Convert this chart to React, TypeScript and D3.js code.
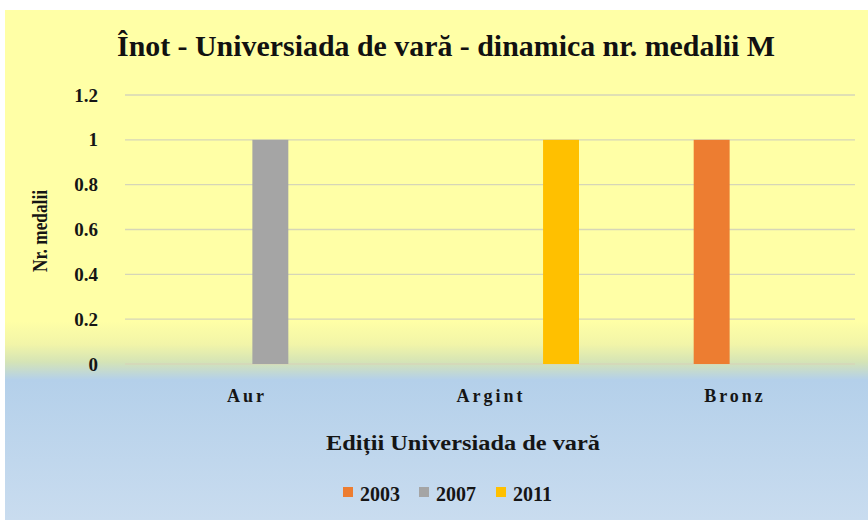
import React from "react";
import * as d3 from "d3";

const categories = ["Aur", "Argint", "Bronz"];
const seriesSlots = ["", "2003", "2007", "2011"];
const years = ["2003", "2007", "2011"];
const values2003 = [0, 0, 1];
const values2007 = [1, 0, 0];
const values2011 = [0, 1, 0];
const yTicks = [0, 0.2, 0.4, 0.6, 0.8, 1, 1.2];
const colors: Record<string, string> = { "2003": "#ED7D31", "2007": "#A5A5A5", "2011": "#FFC000" };

const title = "Înot - Universiada de vară - dinamica  nr. medalii M";
const xTitle = "Ediții Universiada de vară";
const yTitle = "Nr. medalii";

export default function App() {
  const W = 868, H = 520;
  const left = 125, right = 857, top = 95, bottom = 364;
  const x0 = d3.scaleBand<string>().domain(categories).range([left, right]).paddingInner(0).paddingOuter(0);
  const x1 = d3.scaleBand<string>().domain(seriesSlots).range([0, 176]).paddingInner(0.23).paddingOuter(0);
  const y = d3.scaleLinear().domain([0, 1.2]).range([bottom, top]);
  const seriesValues: Record<string, number[]> = { "2003": values2003, "2007": values2007, "2011": values2011 };
  const font = "Liberation Serif";
  const bandOffset = (x0.bandwidth() - 176) / 2;
  const ink = "#151515";

  return (
    <div style={{ position: "absolute", left: 0, top: 0 }}>
      <svg width={W} height={H} style={{ display: "block" }}>
        <defs>
          <linearGradient id="bg" x1="0" y1="0" x2="0" y2="1">
            <stop offset="0%" stopColor="#FFFFA6" />
            <stop offset="61%" stopColor="#FFFFA6" />
            <stop offset="65.5%" stopColor="#F2F5A8" />
            <stop offset="69%" stopColor="#D5E4B6" />
            <stop offset="72.5%" stopColor="#B4D0EA" />
            <stop offset="100%" stopColor="#C9DCEF" />
          </linearGradient>
        </defs>
        <rect x={0} y={0} width={W} height={H} fill="#ffffff" />
        <rect x={5} y={10} width={W - 5} height={H - 10} fill="url(#bg)" />
        {yTicks.map((t) => (
          <line key={t} x1={left} x2={855} y1={y(t)} y2={y(t)} stroke="#D6D6B8" strokeWidth={1.3} />
        ))}
        {categories.map((c, ci) =>
          years.map((yr) => {
            const v = seriesValues[yr][ci];
            if (!v) return null;
            return (
              <rect
                key={c + yr}
                x={(x0(c) as number) + bandOffset + (x1(yr) as number)}
                y={y(v)}
                width={x1.bandwidth()}
                height={y(0) - y(v)}
                fill={colors[yr]}
              />
            );
          })
        )}
        {yTicks.map((t) => (
          <text key={t} x={98} y={y(t)} dy="0.35em" textAnchor="end" fontFamily={font} fontWeight="bold" fontSize={19} fill={ink}>
            {String(t)}
          </text>
        ))}
        {categories.map((c) => (
          <text key={c} x={(x0(c) as number) + x0.bandwidth() / 2} y={402} textAnchor="middle" fontFamily={font} fontWeight="bold" fontSize={18} letterSpacing={3} fill={ink}>
            {c}
          </text>
        ))}
        <text x={117} y={56} fontFamily={font} fontWeight="bold" fontSize={30} textLength={658} lengthAdjust="spacingAndGlyphs" fill="#111">
          {title}
        </text>
        <text x={326} y={450} fontFamily={font} fontWeight="bold" fontSize={20} textLength={274} lengthAdjust="spacingAndGlyphs" fill={ink}>
          {xTitle}
        </text>
        <text transform={`translate(47,272) rotate(-90)`} fontFamily={font} fontWeight="bold" fontSize={20} textLength={82} lengthAdjust="spacingAndGlyphs" fill={ink}>
          {yTitle}
        </text>
        {years.map((yr, i) => {
          const lx = [343, 419, 496][i];
          return (
            <g key={yr}>
              <rect x={lx} y={487} width={10} height={10} fill={colors[yr]} />
              <text x={lx + 17} y={501} fontFamily={font} fontWeight="bold" fontSize={20} fill={ink}>
                {yr}
              </text>
            </g>
          );
        })}
      </svg>
    </div>
  );
}
